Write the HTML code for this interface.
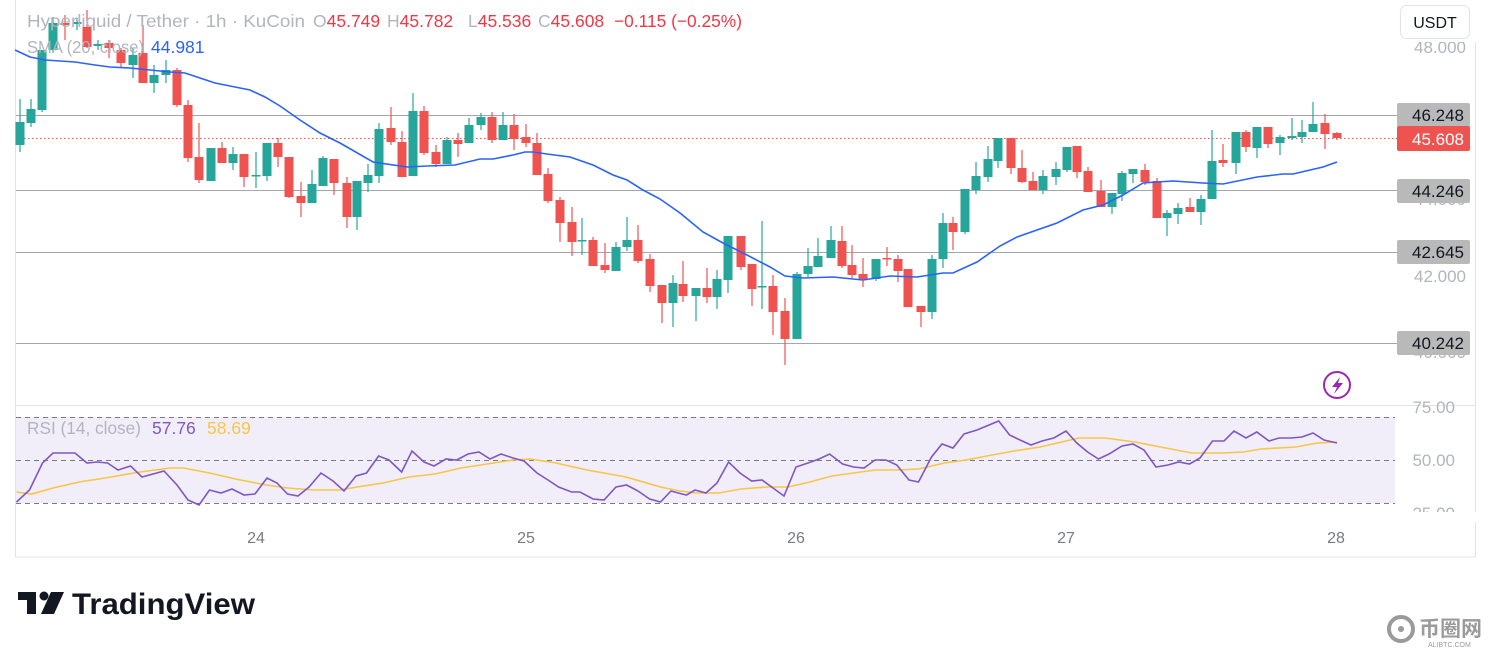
<!DOCTYPE html>
<html><head><meta charset="utf-8"><style>
html,body{margin:0;padding:0;background:#fff;width:1491px;height:648px;overflow:hidden;font-family:"Liberation Sans",sans-serif}
svg{position:absolute;left:0;top:0}
</style></head><body>
<svg id="s" width="1491" height="648" xmlns="http://www.w3.org/2000/svg">
<rect x="15.5" y="-2" width="1460" height="559" fill="none" stroke="#e0e3eb"/>
<line x1="15" y1="405.5" x2="1476" y2="405.5" stroke="#e0e3eb"/>
<rect x="16" y="417" width="1379" height="86" fill="#7e57c2" fill-opacity="0.1"/>
<g stroke="#787b86" stroke-dasharray="5,4" stroke-width="1">
<line x1="16" y1="417.5" x2="1395" y2="417.5"/><line x1="16" y1="460.5" x2="1395" y2="460.5"/><line x1="16" y1="503.5" x2="1395" y2="503.5"/></g>
<g stroke="#a3a6ad" stroke-width="1">
<line x1="16" y1="115.5" x2="1397" y2="115.5"/><line x1="16" y1="190.5" x2="1397" y2="190.5"/><line x1="16" y1="252.5" x2="1397" y2="252.5"/><line x1="16" y1="343.5" x2="1397" y2="343.5"/></g>
<line x1="16" y1="138.5" x2="1397" y2="138.5" stroke="#ef5350" stroke-dasharray="1.5,2.5"/>
<g id="c"></g>
<polyline id="sma" fill="none" stroke="#2962ff" stroke-width="1.6"/>
<polyline id="rma" fill="none" stroke="#f7c548" stroke-width="1.6"/>
<polyline id="rsi" fill="none" stroke="#7e57c2" stroke-width="1.6"/>
<g font-size="17" fill="#b2b5be" text-anchor="end">
<text x="1466" y="53">48.000</text><text x="1466" y="205">44.000</text><text x="1466" y="282">42.000</text><text x="1466" y="358">40.000</text>
<text x="1455" y="413">75.00</text><text x="1455" y="466">50.00</text><text x="1455" y="519">25.00</text></g>
<rect x="1395" y="0" width="90" height="42" fill="#fff"/>
<rect x="1395" y="512" width="90" height="10" fill="#fff"/>
<g font-size="17" text-anchor="end">
<rect x="1397" y="103" width="73" height="24" rx="2" fill="#b9b9b9"/><text x="1464" y="121" fill="#131722">46.248</text>
<rect x="1397" y="126" width="73" height="25" rx="2" fill="#ef5350"/><text x="1464" y="145" fill="#fff">45.608</text>
<rect x="1397" y="179" width="73" height="24" rx="2" fill="#b9b9b9"/><text x="1464" y="197" fill="#131722">44.246</text>
<rect x="1397" y="240" width="73" height="24" rx="2" fill="#b9b9b9"/><text x="1464" y="258" fill="#131722">42.645</text>
<rect x="1397" y="331" width="73" height="24" rx="2" fill="#b9b9b9"/><text x="1464" y="349" fill="#131722">40.242</text></g>
<rect x="1400.5" y="5.5" width="69" height="33" rx="6" fill="#fff" stroke="#e0e3eb"/>
<text x="1435" y="28" font-size="16" text-anchor="middle" fill="#131722">USDT</text>
<circle cx="1337" cy="385" r="13" fill="none" stroke="#9c27b0" stroke-width="2"/>
<path d="M1340 377 L1332 387 L1337 387 L1334 394 L1343 383 L1338 383 Z" fill="#9c27b0"/>
<g font-size="16" fill="#787b86" text-anchor="middle">
<text x="256" y="543">24</text><text x="526" y="543">25</text><text x="796" y="543">26</text><text x="1066" y="543">27</text><text x="1336" y="543">28</text></g>
<g font-size="17.5" fill="#b2b5be">
<text x="27" y="27" textLength="278" lengthAdjust="spacingAndGlyphs">Hyperliquid / Tether · 1h · KuCoin</text>
<text x="313" y="27">O<tspan fill="#f23645">45.749</tspan></text>
<text x="387" y="27">H<tspan fill="#f23645">45.782</tspan></text>
<text x="468" y="27">L<tspan fill="#f23645">45.536</tspan></text>
<text x="538" y="27">C<tspan fill="#f23645">45.608</tspan></text>
<text x="614" y="27" fill="#f23645" textLength="128" lengthAdjust="spacingAndGlyphs">−0.115 (−0.25%)</text>
<text x="27" y="53" textLength="117" lengthAdjust="spacingAndGlyphs">SMA (20, close)</text>
<text x="151" y="53" fill="#2962ff">44.981</text>
<text x="27" y="434" textLength="114" lengthAdjust="spacingAndGlyphs">RSI (14, close)</text>
<text x="152" y="434" fill="#7e57c2">57.76</text>
<text x="207" y="434" fill="#f7c548">58.69</text></g>
<g fill="#131722"><rect x="18" y="592" width="18" height="8"/><rect x="27" y="592" width="9" height="22"/><circle cx="44" cy="596" r="4.5"/><path d="M51 592 L64 592 L54 614 L41 614 Z"/></g>
<text x="72" y="614" font-size="30" font-weight="bold" fill="#131722" textLength="183" lengthAdjust="spacingAndGlyphs">TradingView</text>
<g fill="#9a9a9a"><circle cx="1401" cy="629" r="12" fill="none" stroke="#9a9a9a" stroke-width="4"/><circle cx="1401" cy="629" r="3"/>
<text x="1419" y="636" font-size="21" font-family="Noto Sans CJK SC, sans-serif" font-weight="bold">币圈网</text>
<text x="1428" y="647" font-size="7">ALIBTC.COM</text></g>
</svg>
<script>
var C=[[20,122,145,99,152,'g'],[31,109,123,99,127,'g'],[42,50,110,50,112,'g'],[53,23,50,17,52,'g'],[65,23,25,15,40,'r'],[77,22,24,18,30,'g'],[87,27,47,10,48,'r'],[98,44,46,40,50,'g'],[109,43,48,40,58,'r'],[121,50,63,48,68,'r'],[133,55,65,48,78,'g'],[143,53,83,25,83,'r'],[154,75,83,65,93,'g'],[166,70,75,60,83,'g'],[177,70,105,68,107,'r'],[188,105,158,100,162,'r'],[199,157,180,123,183,'r'],[211,148,181,148,181,'g'],[222,148,163,142,163,'r'],[233,154,163,147,170,'g'],[244,154,177,154,187,'r'],[256,175,176,152,188,'g'],[267,143,176,143,181,'g'],[278,143,157,138,167,'r'],[289,157,197,157,198,'r'],[301,196,203,182,217,'r'],[312,184,203,170,203,'g'],[323,158,186,156,186,'g'],[334,159,183,159,195,'r'],[347,183,217,177,228,'r'],[357,181,217,181,230,'g'],[368,175,183,164,192,'g'],[379,129,176,123,183,'g'],[391,128,142,107,145,'r'],[402,142,177,131,177,'r'],[413,111,176,93,176,'g'],[424,111,153,106,155,'r'],[436,152,164,145,167,'r'],[447,140,164,137,164,'g'],[458,140,144,133,157,'r'],[469,125,143,118,143,'g'],[481,117,125,113,130,'g'],[492,117,140,112,143,'r'],[503,125,140,112,140,'g'],[514,125,139,114,150,'r'],[526,137,143,124,147,'r'],[537,143,175,133,175,'r'],[548,174,201,168,203,'r'],[560,200,223,197,242,'r'],[572,222,242,207,256,'r'],[582,240,241,218,255,'g'],[593,240,266,237,266,'r'],[605,265,270,243,273,'r'],[616,247,271,242,271,'g'],[627,240,247,217,251,'g'],[638,240,261,225,263,'r'],[650,259,286,254,292,'r'],[662,285,303,285,323,'r'],[673,283,303,275,327,'g'],[683,284,296,261,302,'r'],[696,288,296,288,321,'g'],[707,288,297,268,303,'r'],[717,279,297,270,309,'g'],[728,236,280,236,293,'g'],[741,236,267,236,270,'r'],[752,264,289,264,306,'r'],[762,286,287,221,309,'g'],[773,286,312,275,335,'r'],[785,311,339,298,365,'r'],[797,274,339,272,339,'g'],[808,266,274,248,277,'g'],[818,256,267,238,267,'g'],[831,240,258,226,258,'g'],[842,241,266,226,268,'r'],[852,265,275,245,278,'r'],[863,274,279,258,287,'r'],[876,259,279,259,281,'g'],[887,258,259,247,266,'r'],[898,259,271,255,282,'r'],[908,269,307,269,307,'r'],[921,306,312,306,327,'r'],[932,259,312,255,319,'g'],[943,223,259,213,268,'g'],[953,223,232,217,250,'r'],[965,189,232,189,234,'g'],[976,176,190,162,194,'g'],[988,159,177,146,182,'g'],[998,138,161,138,168,'g'],[1011,138,168,138,174,'r'],[1022,168,182,150,183,'r'],[1033,181,190,172,190,'r'],[1043,176,190,170,194,'g'],[1056,169,177,162,185,'g'],[1067,147,170,147,172,'g'],[1077,146,172,146,178,'r'],[1088,171,192,167,192,'r'],[1101,191,207,180,207,'r'],[1112,193,207,193,214,'g'],[1122,173,194,171,201,'g'],[1133,169,174,169,183,'g'],[1145,170,182,164,185,'r'],[1157,181,218,178,218,'r'],[1167,213,218,210,236,'g'],[1178,208,214,203,224,'g'],[1190,207,212,198,212,'r'],[1201,199,212,195,225,'g'],[1212,161,199,130,199,'g'],[1223,160,163,144,167,'r'],[1236,132,163,132,174,'g'],[1246,132,147,130,152,'r'],[1257,127,148,127,158,'g'],[1268,127,144,127,148,'r'],[1280,137,143,135,155,'g'],[1292,136,138,118,140,'g'],[1302,132,137,120,143,'g'],[1313,124,132,102,132,'g'],[1325,123,134,114,149,'r'],[1337,133,138,132,140,'r']];
var g=document.getElementById('c'),h='';
C.forEach(function(c){var col=c[5]=='g'?'#26a69a':'#ef5350';var bh=Math.max(1.5,c[2]-c[1]);
h+='<line x1="'+c[0]+'" x2="'+c[0]+'" y1="'+c[3]+'" y2="'+c[4]+'" stroke="'+col+'" stroke-width="1.2"/>';
h+='<rect x="'+(c[0]-4.5)+'" y="'+c[1]+'" width="9" height="'+bh+'" fill="'+col+'"/>';});
g.innerHTML=h;
document.getElementById('sma').setAttribute('points',"15,50 30,57 45,60 75,62 95,65 110,67 130,68 150,70 170,72 185,73 200,78 215,83 230,86 250,90 265,97 280,106 300,120 320,133 340,143 373,162 407,167 427,166 455,165 480,159 493,159 513,155 525,152 533,152 547,154 570,157 593,165 613,175 627,180 643,190 660,199 680,213 703,232 723,243 747,255 770,267 785,276 803,278 833,277 863,280 890,276 917,277 943,273 953,273 977,262 1000,246 1017,237 1057,223 1083,210 1103,205 1123,195 1143,183 1157,182 1173,181 1203,183 1223,184 1257,177 1283,174 1293,174 1323,167 1337,162");
document.getElementById('rsi').setAttribute('points',"16.5,502 29.5,490 42.5,463 53,453 75,453 87,463 97,462 107.6,463 118,470 130.6,466 142,477 164,471 177,485 188,500 199,505 209.5,490 221,493 232,489 244,495 255,494 267,478 277,483 287.5,494 298,496 309,487 321,473 333,481 344,491 356,476 366.5,473 378.6,456 389,460 401.6,472 412,451 424,462 434,466 446,459 456.7,460 468,454 479,452 490,459 501,454 513,458 524,461 537,473 548,480 558.6,487 571.6,492 580,492 593,499 604,500 616,487 626.6,485 638,491 649.6,499 660.5,502 671,491 682,494 686.5,495 695,490 706,493 717,483 728.6,462 740,473 751.6,481 762,480 773,488 784,496 796,467 808,463 819,459 829.6,454 842.6,464 853.5,467 864,468 875,460 886,460 896.8,465 909,480 918.5,482 931.5,457 942,444 953,448 964,434 977,430 998.7,421 1009.6,435 1020,440 1031,445 1042,441 1053.8,438 1066,431 1076.8,443 1087.6,452 1098.5,459 1109,454 1122,446 1133,444 1144,450 1156,467 1168,465 1178.7,462 1189.5,464 1200,458 1212.5,441 1224,441 1234,431 1246,438 1256.8,432 1269,441 1279,438 1291,438 1302,437 1313,433 1324,440 1337,443");
document.getElementById('rma').setAttribute('points',"16.5,492 31.7,494 53,488 79,482 105,478 140,472 170,468 183.5,468 209.5,473 235.5,479 266,485 287.5,488 313.5,490 339.6,490 357,487 383,483 409,477 435,474 461,468 487,464 513,460 530,459 556,463 587,470 626,477 660.5,487 680,491 697,493 719,493 740.7,489 766.7,487 788,487 810,482 831.8,476 853.5,473 875,470 896.8,470 918.5,469 944.5,463 966,460 992,455 1014,451 1040,447 1061.6,442 1079,438 1105,438 1135,442 1165.7,448 1191.7,453 1222,453 1243.7,452 1261,449 1295.8,447 1317,443 1337,442");
</script>
</body></html>
